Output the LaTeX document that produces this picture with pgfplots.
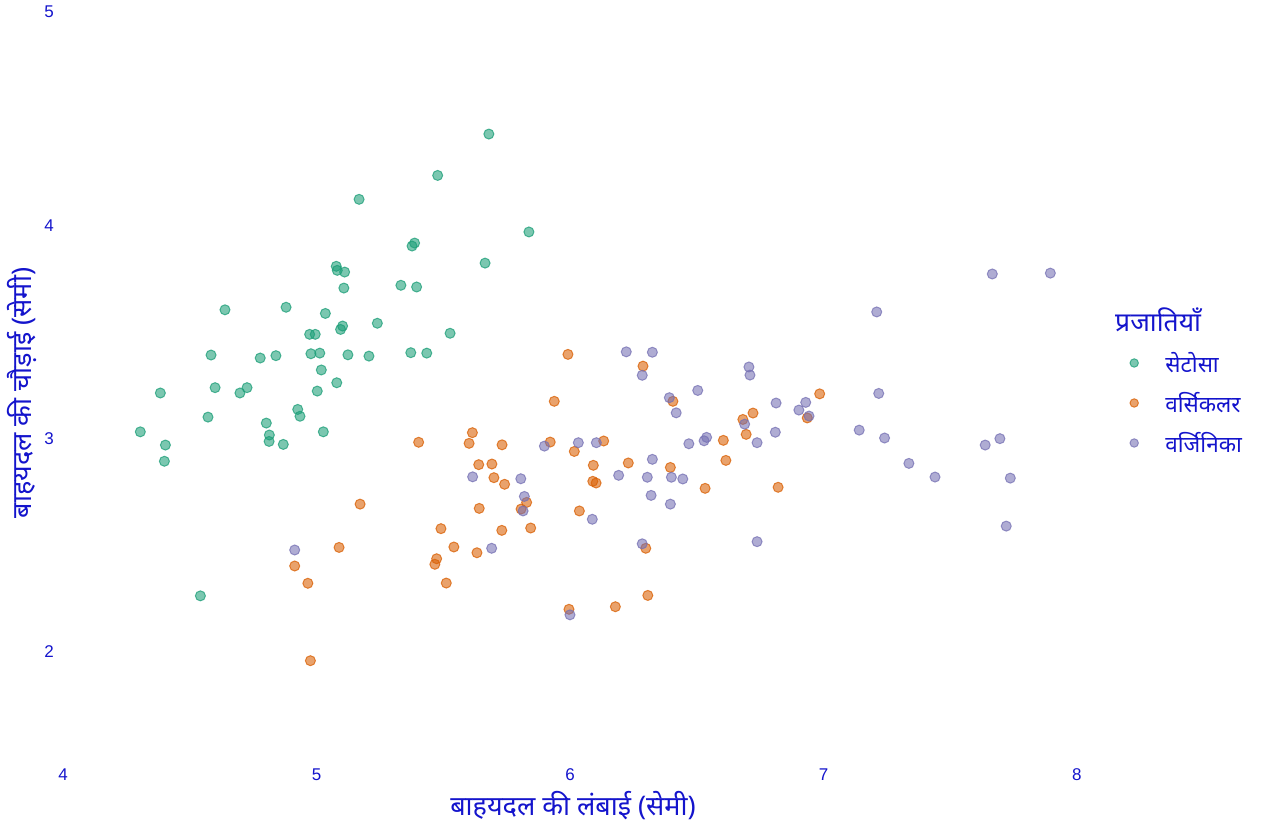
\documentclass[border=0pt]{standalone}
\usepackage{fontspec}
\setmainfont{Liberation Sans}
\newfontfamily\deva[Script=Devanagari]{Noto Sans}
\usepackage{pgfplots}
\pgfplotsset{compat=1.18}
\definecolor{txt}{HTML}{1414CC}
\definecolor{cset}{HTML}{1B9E77}
\definecolor{cver}{HTML}{D95F02}
\definecolor{cvir}{HTML}{7570B3}
\begin{document}
\begin{tikzpicture}
\path[use as bounding box] (0,0) rectangle (1280bp,832bp);
\begin{axis}[
  at={(63bp,73.4bp)}, anchor=south west,
  scale only axis, width=1064.7bp, height=746.55bp,
  xmin=4, xmax=8.2, ymin=1.5, ymax=5,
  axis line style={draw=none}, major tick length=0pt,
  xtick={4,5,6,7,8}, ytick={2,3,4,5},
  /pgf/number format/assume math mode=true,
  ticklabel style={font=\fontsize{17bp}{20bp}\selectfont, text=txt, inner sep=0pt},
  xticklabel style={yshift=-10bp},
  yticklabel style={xshift=-9bp},
  xlabel={\deva बाहयदल की लंबाई (सेमी)},
  ylabel={\deva बाहयदल की चौड़ाई (सेमी)},
  label style={font=\fontsize{27bp}{30bp}\selectfont, text=txt, inner sep=0pt},
  xlabel style={at={(axis description cs:0.479,-0.0635)}, anchor=center},
  ylabel style={at={(axis description cs:-0.0385,0.4897)}, anchor=center},
  legend cell align=left,
  legend style={draw=none, fill=none, inner sep=0pt, outer sep=0pt,
    at={(axis description cs:1.0022,0.5567)}, anchor=north west,
    font=\fontsize{22.5bp}{26bp}\selectfont\deva, text=txt,
    nodes={inner sep=0pt, minimum height=40bp},
    /tikz/every odd column/.style={column sep=27bp}},
  legend image code/.code={\draw[#1, mark size=4.2bp] plot coordinates {(0bp,0bp)};},
  every axis plot/.append style={only marks, mark=*, mark size=5bp, line width=1bp},
]
\addplot[draw=cset, fill=cset, draw opacity=0.75, fill opacity=0.58] coordinates {
(4.305,3.032) (4.384,3.214) (4.404,2.970) (4.400,2.894) (4.542,2.263)
(4.572,3.101) (4.584,3.392) (4.600,3.239) (4.639,3.604) (4.698,3.214)
(4.726,3.239) (4.778,3.378) (4.802,3.073) (4.814,3.017) (4.813,2.987)
(4.840,3.389) (4.869,2.973) (4.880,3.616) (4.926,3.137) (4.935,3.105)
(4.973,3.489) (4.978,3.398) (4.995,3.489) (5.003,3.223) (5.013,3.401)
(5.019,3.322) (5.027,3.032) (5.035,3.587) (5.078,3.808) (5.080,3.262)
(5.082,3.789) (5.095,3.512) (5.103,3.528) (5.108,3.706) (5.111,3.781)
(5.124,3.393) (5.168,4.122) (5.207,3.387) (5.240,3.541) (5.333,3.719)
(5.372,3.403) (5.377,3.903) (5.387,3.917) (5.395,3.711) (5.435,3.401)
(5.478,4.234) (5.527,3.494) (5.665,3.823) (5.680,4.428) (5.838,3.969)
};
\addlegendentry{सेटोसा}
\addplot[draw=cver, fill=cver, draw opacity=0.75, fill opacity=0.58] coordinates {
(5.403,2.983) (5.172,2.693) (5.491,2.578) (5.542,2.492) (5.089,2.490)
(5.474,2.437) (5.467,2.411) (4.914,2.403) (4.966,2.322) (5.512,2.323)
(4.976,1.959) (5.992,3.395) (6.288,3.340) (5.938,3.175) (6.406,3.175)
(5.615,3.028) (5.602,2.978) (5.732,2.971) (5.922,2.984) (6.017,2.940)
(6.133,2.989) (5.640,2.878) (5.692,2.881) (5.700,2.817) (5.742,2.786)
(6.092,2.875) (6.230,2.886) (6.396,2.865) (6.090,2.800) (6.103,2.792)
(5.829,2.701) (5.642,2.673) (6.037,2.661) (5.731,2.570) (5.845,2.581)
(5.633,2.465) (6.299,2.486) (6.307,2.265) (5.996,2.200) (6.179,2.212)
(6.985,3.210) (6.722,3.120) (6.682,3.090) (6.936,3.097) (6.695,3.020)
(6.605,2.992) (6.615,2.898) (6.533,2.767) (6.821,2.772) (5.807,2.670)
};
\addlegendentry{वर्सिकलर}
\addplot[draw=cvir, fill=cvir, draw opacity=0.75, fill opacity=0.58] coordinates {
(4.914,2.478) (6.222,3.407) (6.325,3.405) (6.285,3.297) (6.392,3.192)
(6.419,3.121) (6.504,3.226) (5.899,2.965) (6.033,2.981) (6.104,2.981)
(6.469,2.976) (6.325,2.903) (5.616,2.821) (5.806,2.812) (6.192,2.828)
(6.305,2.819) (6.400,2.819) (6.445,2.811) (5.820,2.729) (5.815,2.661)
(6.320,2.734) (6.396,2.693) (6.088,2.622) (5.691,2.486) (6.285,2.507)
(6.000,2.174) (7.210,3.594) (6.706,3.336) (6.710,3.298) (6.813,3.167)
(6.930,3.170) (6.903,3.134) (6.943,3.106) (7.218,3.212) (6.689,3.068)
(6.539,3.006) (6.529,2.990) (6.738,2.981) (6.810,3.030) (7.141,3.040)
(7.241,3.003) (7.638,2.970) (7.696,3.000) (7.337,2.884) (7.440,2.820)
(7.737,2.815) (7.721,2.590) (6.738,2.517) (7.666,3.772) (7.895,3.776)
};
\addlegendentry{वर्जिनिका}
\end{axis}
\node[anchor=west, inner sep=0pt, text=txt, font=\fontsize{26.5bp}{30bp}\selectfont\deva] at (1115bp,512bp) {प्रजातियाँ};
\end{tikzpicture}
\end{document}
